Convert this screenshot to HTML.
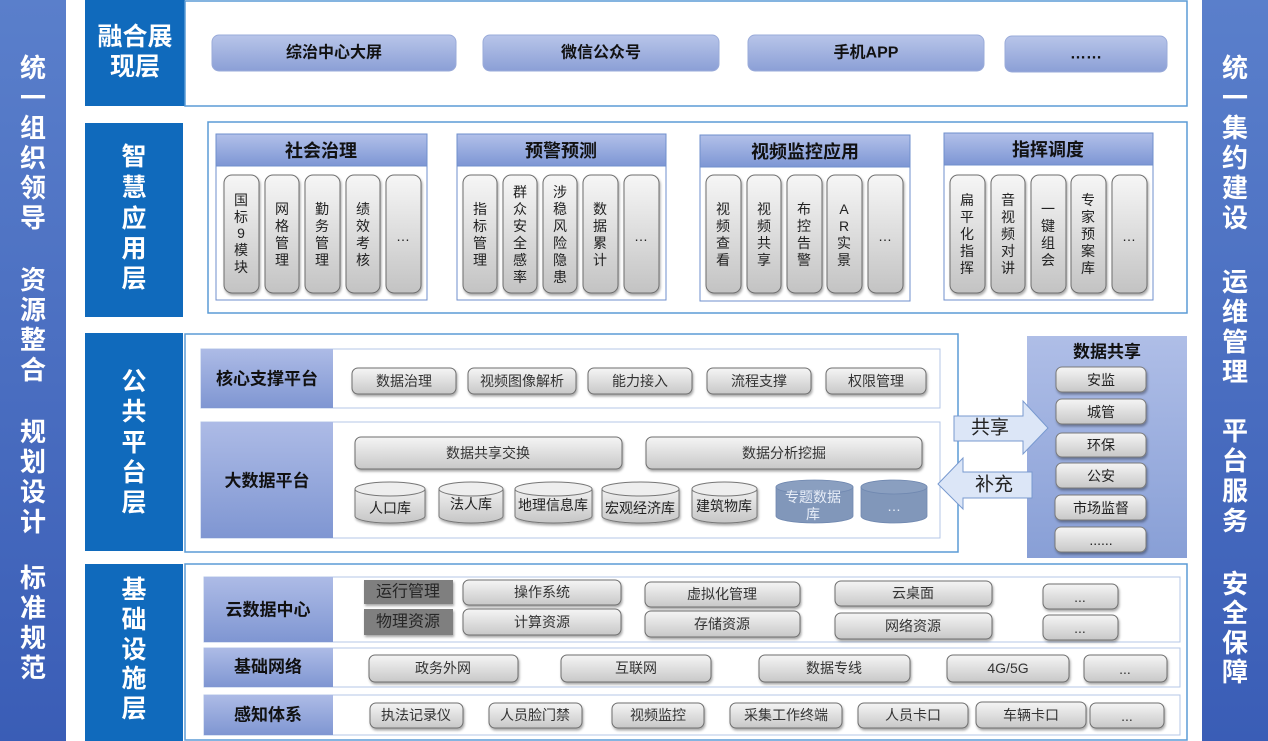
<!DOCTYPE html>
<html><head><meta charset="utf-8"><style>
html,body{margin:0;padding:0;background:#fff;}
svg{display:block;}
text{font-family:"Liberation Sans","Noto Sans CJK SC",sans-serif;}
.cjk{font-family:"Noto Sans CJK SC","Liberation Sans",sans-serif;}
</style></head><body>
<svg width="1268" height="741" viewBox="0 0 1268 741" xmlns="http://www.w3.org/2000/svg">
<defs>
<linearGradient id="side" x1="0" y1="0" x2="0" y2="1"><stop offset="0" stop-color="#5a7fcb"/><stop offset="1" stop-color="#3a5db6"/></linearGradient>
<linearGradient id="topb" x1="0" y1="0" x2="0" y2="1"><stop offset="0" stop-color="#b8c5e9"/><stop offset="1" stop-color="#8b9fd6"/></linearGradient>
<linearGradient id="hdr" x1="0" y1="0" x2="0" y2="1"><stop offset="0" stop-color="#b2c0e9"/><stop offset="1" stop-color="#7d96d4"/></linearGradient>
<linearGradient id="lbl" x1="0" y1="0" x2="0" y2="1"><stop offset="0" stop-color="#adbbe6"/><stop offset="1" stop-color="#7f96d2"/></linearGradient>
<linearGradient id="pill" x1="0" y1="0" x2="0" y2="1"><stop offset="0" stop-color="#f6f6f6"/><stop offset="1" stop-color="#c3c3c3"/></linearGradient>
<linearGradient id="btn" x1="0" y1="0" x2="0" y2="1"><stop offset="0" stop-color="#f5f5f5"/><stop offset="1" stop-color="#c8c8c8"/></linearGradient>
<linearGradient id="share" x1="0" y1="0" x2="0" y2="1"><stop offset="0" stop-color="#afbee7"/><stop offset="1" stop-color="#889fd6"/></linearGradient>
<linearGradient id="cyl" x1="0" y1="0" x2="0" y2="1"><stop offset="0" stop-color="#f0f0f0"/><stop offset="1" stop-color="#c6c6c6"/></linearGradient>
<filter id="sh" x="-10%" y="-10%" width="130%" height="140%"><feDropShadow dx="1" dy="2" stdDeviation="1.2" flood-color="#000" flood-opacity="0.35"/></filter>
</defs>

<!-- side bars -->
<rect x="0" y="0" width="66" height="741" fill="url(#side)"/>
<rect x="1202" y="0" width="66" height="741" fill="url(#side)"/>
<g class="cjk" font-size="26" font-weight="bold" fill="#fff" text-anchor="middle" dominant-baseline="central">
<text x="33" y="68">统</text><text x="33" y="98">一</text><text x="33" y="128">组</text><text x="33" y="158">织</text><text x="33" y="188">领</text><text x="33" y="218">导</text>
<text x="33" y="280">资</text><text x="33" y="310">源</text><text x="33" y="340">整</text><text x="33" y="370">合</text>
<text x="33" y="432">规</text><text x="33" y="462">划</text><text x="33" y="492">设</text><text x="33" y="522">计</text>
<text x="33" y="578">标</text><text x="33" y="608">准</text><text x="33" y="638">规</text><text x="33" y="668">范</text>
<text x="1235" y="68">统</text><text x="1235" y="98">一</text><text x="1235" y="128">集</text><text x="1235" y="158">约</text><text x="1235" y="188">建</text><text x="1235" y="218">设</text>
<text x="1235" y="282">运</text><text x="1235" y="312">维</text><text x="1235" y="342">管</text><text x="1235" y="372">理</text>
<text x="1235" y="431">平</text><text x="1235" y="461">台</text><text x="1235" y="491">服</text><text x="1235" y="521">务</text>
<text x="1235" y="584">安</text><text x="1235" y="613">全</text><text x="1235" y="643">保</text><text x="1235" y="672">障</text>
</g>

<!-- layer label boxes -->
<rect x="85" y="0" width="100" height="106" fill="#106abc"/>
<rect x="85" y="123" width="98" height="194" fill="#106abc"/>
<rect x="85" y="333" width="98" height="218" fill="#106abc"/>
<rect x="85" y="564" width="98" height="177" fill="#106abc"/>
<g class="cjk" font-size="25" font-weight="bold" fill="#fff" text-anchor="middle" dominant-baseline="central">
<text x="135" y="37">融合展</text><text x="135" y="67">现层</text>
<text x="134" y="157">智</text><text x="134" y="188">慧</text><text x="134" y="219">应</text><text x="134" y="249">用</text><text x="134" y="279">层</text>
<text x="134" y="382">公</text><text x="134" y="412">共</text><text x="134" y="443">平</text><text x="134" y="473">台</text><text x="134" y="503">层</text>
<text x="134" y="590">基</text><text x="134" y="620">础</text><text x="134" y="650">设</text><text x="134" y="679">施</text><text x="134" y="709">层</text>
</g>

<!-- frames -->
<g fill="#fff" stroke="#5b9bd5" stroke-width="1.5">
<rect x="185" y="1" width="1002" height="105"/>
<rect x="208" y="122" width="979" height="191"/>
<rect x="185" y="334" width="773" height="218"/>
<rect x="185" y="564" width="1002" height="176"/>
</g>

<!-- top buttons -->
<g stroke="#9aabd9" stroke-width="1" fill="url(#topb)">
<rect x="212" y="35" width="244" height="36" rx="7"/>
<rect x="483" y="35" width="236" height="36" rx="7"/>
<rect x="748" y="35" width="236" height="36" rx="7"/>
<rect x="1005" y="36" width="162" height="36" rx="7"/>
</g>
<g class="cjk" font-size="16" font-weight="bold" fill="#111" text-anchor="middle" dominant-baseline="central">
<text x="334" y="53">综治中心大屏</text>
<text x="601" y="53">微信公众号</text>
<text x="866" y="53">手机APP</text>
<text x="1086" y="54">……</text>
</g>

<!-- application groups -->
<g stroke="#6f8fcc" stroke-width="1">
<rect x="216" y="134" width="211" height="166" fill="#fff"/><rect x="216" y="134" width="211" height="32" fill="url(#hdr)"/>
<rect x="457" y="134" width="209" height="166" fill="#fff"/><rect x="457" y="134" width="209" height="32" fill="url(#hdr)"/>
<rect x="700" y="135" width="210" height="166" fill="#fff"/><rect x="700" y="135" width="210" height="32" fill="url(#hdr)"/>
<rect x="944" y="133" width="209" height="167" fill="#fff"/><rect x="944" y="133" width="209" height="32" fill="url(#hdr)"/>
</g>
<g class="cjk" font-size="18" font-weight="bold" fill="#111" text-anchor="middle" dominant-baseline="central">
<text x="321" y="151">社会治理</text>
<text x="561" y="151">预警预测</text>
<text x="805" y="152">视频监控应用</text>
<text x="1048" y="150">指挥调度</text>
</g>
<g fill="url(#pill)" stroke="#6e6e6e" stroke-width="1" filter="url(#sh)">
<rect x="224" y="175" width="35" height="118" rx="8"/><rect x="265" y="175" width="34" height="118" rx="8"/><rect x="305" y="175" width="35" height="118" rx="8"/><rect x="346" y="175" width="34" height="118" rx="8"/><rect x="386" y="175" width="35" height="118" rx="8"/>
<rect x="463" y="175" width="34" height="118" rx="8"/><rect x="503" y="175" width="34" height="118" rx="8"/><rect x="543" y="175" width="34" height="118" rx="8"/><rect x="583" y="175" width="35" height="118" rx="8"/><rect x="624" y="175" width="35" height="118" rx="8"/>
<rect x="706" y="175" width="35" height="118" rx="8"/><rect x="747" y="175" width="34" height="118" rx="8"/><rect x="787" y="175" width="35" height="118" rx="8"/><rect x="827" y="175" width="35" height="118" rx="8"/><rect x="868" y="175" width="35" height="118" rx="8"/>
<rect x="950" y="175" width="35" height="118" rx="8"/><rect x="991" y="175" width="34" height="118" rx="8"/><rect x="1031" y="175" width="35" height="118" rx="8"/><rect x="1071" y="175" width="35" height="118" rx="8"/><rect x="1112" y="175" width="35" height="118" rx="8"/>
</g>
<g class="cjk" font-size="14" fill="#222" text-anchor="middle" dominant-baseline="central">
<!-- 社会治理 -->
<text x="241" y="200">国</text><text x="241" y="217">标</text><text x="241" y="233">9</text><text x="241" y="250">模</text><text x="241" y="267">块</text>
<text x="282" y="209">网</text><text x="282" y="226">格</text><text x="282" y="243">管</text><text x="282" y="260">理</text>
<text x="322" y="209">勤</text><text x="322" y="226">务</text><text x="322" y="243">管</text><text x="322" y="260">理</text>
<text x="363" y="209">绩</text><text x="363" y="226">效</text><text x="363" y="243">考</text><text x="363" y="260">核</text>
<text x="403" y="236">…</text>
<!-- 预警预测 -->
<text x="480" y="209">指</text><text x="480" y="226">标</text><text x="480" y="243">管</text><text x="480" y="260">理</text>
<text x="520" y="192">群</text><text x="520" y="209">众</text><text x="520" y="226">安</text><text x="520" y="243">全</text><text x="520" y="260">感</text><text x="520" y="277">率</text>
<text x="560" y="192">涉</text><text x="560" y="209">稳</text><text x="560" y="226">风</text><text x="560" y="243">险</text><text x="560" y="260">隐</text><text x="560" y="277">患</text>
<text x="600" y="209">数</text><text x="600" y="226">据</text><text x="600" y="243">累</text><text x="600" y="260">计</text>
<text x="641" y="236">…</text>
<!-- 视频监控应用 -->
<text x="723" y="209">视</text><text x="723" y="226">频</text><text x="723" y="243">查</text><text x="723" y="260">看</text>
<text x="764" y="209">视</text><text x="764" y="226">频</text><text x="764" y="243">共</text><text x="764" y="260">享</text>
<text x="804" y="209">布</text><text x="804" y="226">控</text><text x="804" y="243">告</text><text x="804" y="260">警</text>
<text x="844" y="209">A</text><text x="844" y="226">R</text><text x="844" y="243">实</text><text x="844" y="260">景</text>
<text x="885" y="236">…</text>
<!-- 指挥调度 -->
<text x="967" y="200">扁</text><text x="967" y="217">平</text><text x="967" y="234">化</text><text x="967" y="251">指</text><text x="967" y="268">挥</text>
<text x="1008" y="200">音</text><text x="1008" y="217">视</text><text x="1008" y="234">频</text><text x="1008" y="251">对</text><text x="1008" y="268">讲</text>
<text x="1048" y="209">一</text><text x="1048" y="226">键</text><text x="1048" y="243">组</text><text x="1048" y="260">会</text>
<text x="1088" y="200">专</text><text x="1088" y="217">家</text><text x="1088" y="234">预</text><text x="1088" y="251">案</text><text x="1088" y="268">库</text>
<text x="1129" y="236">…</text>
</g>

<!-- public platform rows -->
<g stroke="#b4c7e7" stroke-width="1" fill="#fff">
<rect x="201" y="349" width="739" height="59"/>
<rect x="201" y="422" width="739" height="116"/>
</g>
<rect x="201" y="349" width="132" height="59" fill="url(#lbl)"/>
<rect x="201" y="422" width="132" height="116" fill="url(#lbl)"/>
<g class="cjk" font-size="17" font-weight="bold" fill="#111" text-anchor="middle" dominant-baseline="central">
<text x="267" y="379">核心支撑平台</text>
<text x="267" y="481">大数据平台</text>
</g>
<g fill="url(#btn)" stroke="#6e6e6e" stroke-width="1" filter="url(#sh)">
<rect x="352" y="368" width="104" height="26" rx="6"/>
<rect x="468" y="368" width="108" height="26" rx="6"/>
<rect x="588" y="368" width="104" height="26" rx="6"/>
<rect x="707" y="368" width="104" height="26" rx="6"/>
<rect x="826" y="368" width="100" height="26" rx="6"/>
<rect x="355" y="437" width="267" height="32" rx="6"/>
<rect x="646" y="437" width="276" height="32" rx="6"/>
</g>
<g class="cjk" font-size="14" fill="#333" text-anchor="middle" dominant-baseline="central">
<text x="404" y="381">数据治理</text>
<text x="522" y="381">视频图像解析</text>
<text x="640" y="381">能力接入</text>
<text x="759" y="381">流程支撑</text>
<text x="876" y="381">权限管理</text>
<text x="488" y="453">数据共享交换</text>
<text x="784" y="453">数据分析挖掘</text>
</g>
<!-- cylinders -->
<g stroke="#777" stroke-width="1" filter="url(#sh)">
<path d="M355,489 L355,516 A35,7 0 0 0 425,516 L425,489 Z" fill="url(#cyl)"/><ellipse cx="390" cy="489" rx="35" ry="7" fill="#eeeeee"/>
<path d="M439,489 L439,516 A32,7 0 0 0 503,516 L503,489 Z" fill="url(#cyl)"/><ellipse cx="471" cy="489" rx="32" ry="7" fill="#eeeeee"/>
<path d="M515,489 L515,516 A38.5,7 0 0 0 592,516 L592,489 Z" fill="url(#cyl)"/><ellipse cx="553.5" cy="489" rx="38.5" ry="7" fill="#eeeeee"/>
<path d="M602,489 L602,516 A38.5,7 0 0 0 679,516 L679,489 Z" fill="url(#cyl)"/><ellipse cx="640.5" cy="489" rx="38.5" ry="7" fill="#eeeeee"/>
<path d="M692,489 L692,516 A32.5,7 0 0 0 757,516 L757,489 Z" fill="url(#cyl)"/><ellipse cx="724.5" cy="489" rx="32.5" ry="7" fill="#eeeeee"/>
</g>
<g stroke="#7088b0" stroke-width="0.8">
<path d="M776,487 L776,516 A38.5,7 0 0 0 853,516 L853,487 Z" fill="#8197ba"/><ellipse cx="814.5" cy="487" rx="38.5" ry="7" fill="#8a9fc0"/>
<path d="M861,487 L861,516 A33,7 0 0 0 927,516 L927,487 Z" fill="#8197ba"/><ellipse cx="894" cy="487" rx="33" ry="7" fill="#8a9fc0"/>
</g>
<g class="cjk" font-size="14" fill="#222" text-anchor="middle" dominant-baseline="central">
<text x="390" y="508">人口库</text>
<text x="471" y="504">法人库</text>
<text x="553" y="505">地理信息库</text>
<text x="640" y="508">宏观经济库</text>
<text x="724" y="506">建筑物库</text>
</g>
<g class="cjk" font-size="14" fill="#e8eef8" text-anchor="middle" dominant-baseline="central">
<text x="813" y="497">专题数据</text>
<text x="813" y="514">库</text>
<text x="894" y="506">…</text>
</g>

<!-- data sharing panel -->
<rect x="1027" y="336" width="160" height="222" fill="url(#share)"/>
<text class="cjk" x="1107" y="350" font-size="17" font-weight="bold" fill="#111" text-anchor="middle" dominant-baseline="central">数据共享</text>
<g fill="url(#btn)" stroke="#7a7a7a" stroke-width="1" filter="url(#sh)">
<rect x="1056" y="367" width="90" height="25" rx="6"/>
<rect x="1056" y="399" width="90" height="25" rx="6"/>
<rect x="1056" y="433" width="90" height="24" rx="6"/>
<rect x="1056" y="463" width="90" height="25" rx="6"/>
<rect x="1055" y="495" width="91" height="25" rx="6"/>
<rect x="1055" y="527" width="91" height="25" rx="6"/>
</g>
<g class="cjk" font-size="14" fill="#222" text-anchor="middle" dominant-baseline="central">
<text x="1101" y="380">安监</text>
<text x="1101" y="412">城管</text>
<text x="1101" y="445">环保</text>
<text x="1101" y="476">公安</text>
<text x="1101" y="508">市场监督</text>
<text x="1101" y="540">......</text>
</g>

<!-- arrows -->
<polygon points="954,416 1023,416 1023,401 1048,428 1023,454 1023,441 954,441" fill="#dce6f7" stroke="#7899cf" stroke-width="1"/>
<polygon points="938,484 963,458 963,472 1032,472 1032,498 963,498 963,509" fill="#dce6f7" stroke="#7899cf" stroke-width="1"/>
<g class="cjk" font-size="19" fill="#222" text-anchor="middle" dominant-baseline="central">
<text x="990" y="428">共享</text>
<text x="994" y="485">补充</text>
</g>

<!-- infrastructure rows -->
<g stroke="#b4c7e7" stroke-width="1" fill="#fff">
<rect x="204" y="577" width="976" height="65"/>
<rect x="204" y="648" width="976" height="39"/>
<rect x="204" y="695" width="976" height="40"/>
</g>
<rect x="204" y="577" width="129" height="65" fill="url(#lbl)"/>
<rect x="204" y="648" width="129" height="39" fill="url(#lbl)"/>
<rect x="204" y="695" width="129" height="40" fill="url(#lbl)"/>
<g class="cjk" font-size="17" font-weight="bold" fill="#111" text-anchor="middle" dominant-baseline="central">
<text x="268" y="610">云数据中心</text>
<text x="268" y="667">基础网络</text>
<text x="268" y="715">感知体系</text>
</g>
<g fill="#7f7f7f" filter="url(#sh)">
<rect x="364" y="580" width="89" height="24"/>
<rect x="364" y="609" width="89" height="26"/>
</g>
<g fill="url(#btn)" stroke="#6e6e6e" stroke-width="1" filter="url(#sh)">
<rect x="463" y="580" width="158" height="25" rx="6"/>
<rect x="463" y="609" width="158" height="26" rx="6"/>
<rect x="645" y="582" width="155" height="25" rx="6"/>
<rect x="645" y="611" width="155" height="26" rx="6"/>
<rect x="835" y="581" width="157" height="25" rx="6"/>
<rect x="835" y="613" width="157" height="26" rx="6"/>
<rect x="1043" y="584" width="75" height="25" rx="6"/>
<rect x="1043" y="615" width="75" height="25" rx="6"/>
<rect x="369" y="655" width="149" height="27" rx="6"/>
<rect x="561" y="655" width="150" height="27" rx="6"/>
<rect x="759" y="655" width="151" height="27" rx="6"/>
<rect x="947" y="655" width="122" height="27" rx="6"/>
<rect x="1084" y="655" width="83" height="27" rx="6"/>
<rect x="370" y="703" width="93" height="25" rx="6"/>
<rect x="489" y="703" width="93" height="25" rx="6"/>
<rect x="612" y="703" width="92" height="25" rx="6"/>
<rect x="730" y="703" width="112" height="25" rx="6"/>
<rect x="858" y="703" width="110" height="25" rx="6"/>
<rect x="976" y="702" width="110" height="26" rx="6"/>
<rect x="1090" y="703" width="74" height="25" rx="6"/>
</g>
<g class="cjk" font-size="16" fill="#262626" text-anchor="middle" dominant-baseline="central">
<text x="408" y="592">运行管理</text>
<text x="408" y="622">物理资源</text>
</g>
<g class="cjk" font-size="14" fill="#333" text-anchor="middle" dominant-baseline="central">
<text x="542" y="592">操作系统</text>
<text x="542" y="622">计算资源</text>
<text x="722" y="594">虚拟化管理</text>
<text x="722" y="624">存储资源</text>
<text x="913" y="593">云桌面</text>
<text x="913" y="626">网络资源</text>
<text x="1080" y="597">...</text>
<text x="1080" y="628">...</text>
<text x="443" y="668">政务外网</text>
<text x="636" y="668">互联网</text>
<text x="834" y="668">数据专线</text>
<text x="1008" y="668">4G/5G</text>
<text x="1125" y="669">...</text>
<text x="416" y="715">执法记录仪</text>
<text x="535" y="715">人员脸门禁</text>
<text x="658" y="715">视频监控</text>
<text x="786" y="715">采集工作终端</text>
<text x="913" y="715">人员卡口</text>
<text x="1031" y="715">车辆卡口</text>
<text x="1127" y="716">...</text>
</g>
</svg>
</body></html>
